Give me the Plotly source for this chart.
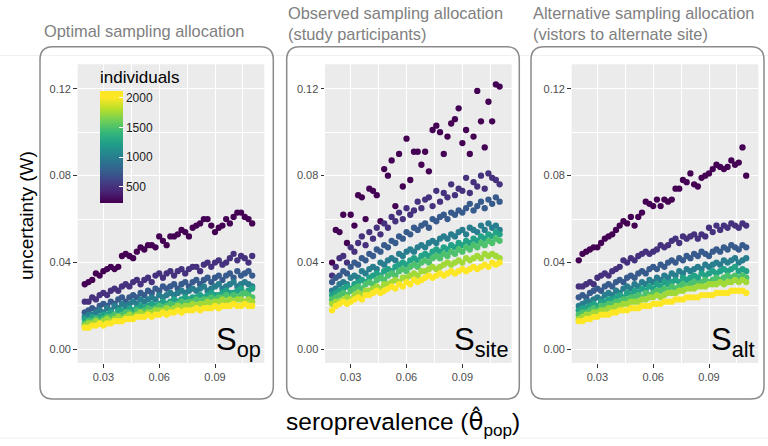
import plotly.graph_objects as go
from plotly.colors import sequential

W, H = 768, 446

# ---------------- data ----------------
prevalence = [0.020, 0.022, 0.024, 0.026, 0.028, 0.030, 0.032, 0.034, 0.036, 0.038,
              0.040, 0.042, 0.044, 0.046, 0.048, 0.050, 0.052, 0.054, 0.056, 0.058,
              0.060, 0.062, 0.064, 0.066, 0.068, 0.070, 0.072, 0.074, 0.076, 0.078,
              0.080, 0.082, 0.084, 0.086, 0.088, 0.090, 0.092, 0.094, 0.096, 0.098,
              0.100, 0.102, 0.104, 0.106, 0.108, 0.110]

individuals = [250, 500, 750, 1000, 1250, 1500, 1750, 2000]

panel_titles = ["Optimal sampling allocation",
                "Observed sampling allocation<br>(study participants)",
                "Alternative sampling allocation<br>(vistors to alternate site)"]
panel_labels = ["S<sub>op</sub>", "S<sub>site</sub>", "S<sub>alt</sub>"]

# uncertainty W, optimal allocation (one list per number of individuals)
op_250 = [0.030, 0.031, 0.032, 0.035, 0.034, 0.036, 0.037, 0.038, 0.037, 0.038,
          0.043, 0.044, 0.043, 0.042, 0.045, 0.047, 0.046, 0.048, 0.048, 0.047,
          0.052, 0.050, 0.048, 0.052, 0.052, 0.053, 0.055, 0.054, 0.052, 0.056,
          0.057, 0.058, 0.060, 0.060, 0.057, 0.054, 0.056, 0.057, 0.060, 0.058,
          0.061, 0.063, 0.063, 0.061, 0.060, 0.058]
op_500 = [0.022, 0.022, 0.024, 0.023, 0.025, 0.026, 0.025, 0.027, 0.028, 0.027,
          0.029, 0.030, 0.029, 0.031, 0.032, 0.030, 0.032, 0.033, 0.031, 0.034,
          0.035, 0.033, 0.035, 0.036, 0.034, 0.036, 0.037, 0.035, 0.037, 0.038,
          0.038, 0.036, 0.039, 0.040, 0.038, 0.040, 0.041, 0.039, 0.040, 0.042,
          0.044, 0.041, 0.043, 0.042, 0.040, 0.043]
op_750 = [0.017, 0.018, 0.019, 0.018, 0.020, 0.021, 0.020, 0.022, 0.021, 0.023,
          0.024, 0.022, 0.024, 0.025, 0.024, 0.026, 0.025, 0.027, 0.026, 0.028,
          0.027, 0.029, 0.028, 0.029, 0.030, 0.028, 0.030, 0.031, 0.029, 0.031,
          0.032, 0.030, 0.032, 0.033, 0.031, 0.033, 0.034, 0.032, 0.034, 0.035,
          0.033, 0.036, 0.034, 0.035, 0.036, 0.034]
op_1000 = [0.015, 0.016, 0.016, 0.017, 0.018, 0.017, 0.019, 0.018, 0.020, 0.019,
           0.021, 0.020, 0.021, 0.022, 0.021, 0.023, 0.022, 0.023, 0.024, 0.023,
           0.025, 0.024, 0.025, 0.026, 0.025, 0.026, 0.027, 0.026, 0.027, 0.028,
           0.027, 0.028, 0.029, 0.027, 0.028, 0.029, 0.030, 0.028, 0.029, 0.030,
           0.031, 0.029, 0.030, 0.031, 0.030, 0.029]
op_1250 = [0.014, 0.013, 0.015, 0.014, 0.015, 0.016, 0.016, 0.017, 0.016, 0.018,
           0.018, 0.017, 0.019, 0.018, 0.019, 0.020, 0.019, 0.020, 0.021, 0.020,
           0.021, 0.022, 0.021, 0.022, 0.023, 0.022, 0.023, 0.024, 0.023, 0.024,
           0.024, 0.025, 0.024, 0.025, 0.026, 0.025, 0.025, 0.026, 0.027, 0.026,
           0.026, 0.027, 0.028, 0.026, 0.027, 0.028]
op_1500 = [0.012, 0.013, 0.013, 0.014, 0.013, 0.014, 0.015, 0.015, 0.016, 0.015,
           0.016, 0.017, 0.017, 0.016, 0.018, 0.017, 0.018, 0.019, 0.018, 0.019,
           0.020, 0.019, 0.020, 0.021, 0.020, 0.021, 0.022, 0.021, 0.022, 0.022,
           0.023, 0.022, 0.023, 0.023, 0.024, 0.023, 0.024, 0.024, 0.025, 0.024,
           0.025, 0.024, 0.025, 0.026, 0.025, 0.024]
op_1750 = [0.011, 0.012, 0.012, 0.013, 0.012, 0.013, 0.014, 0.013, 0.014, 0.015,
           0.014, 0.015, 0.016, 0.015, 0.016, 0.017, 0.016, 0.017, 0.017, 0.018,
           0.018, 0.018, 0.019, 0.018, 0.019, 0.020, 0.019, 0.020, 0.020, 0.021,
           0.020, 0.021, 0.021, 0.022, 0.021, 0.022, 0.022, 0.023, 0.022, 0.023,
           0.022, 0.023, 0.023, 0.022, 0.023, 0.022]
op_2000 = [0.010, 0.010, 0.011, 0.011, 0.012, 0.011, 0.012, 0.012, 0.013, 0.013,
           0.013, 0.014, 0.014, 0.014, 0.015, 0.015, 0.015, 0.016, 0.015, 0.016,
           0.016, 0.017, 0.016, 0.017, 0.017, 0.018, 0.017, 0.018, 0.018, 0.018,
           0.019, 0.018, 0.019, 0.019, 0.019, 0.020, 0.019, 0.020, 0.020, 0.020,
           0.021, 0.020, 0.020, 0.021, 0.020, 0.020]

# observed allocation (study participants)
site_250 = [0.040, 0.055, 0.054, 0.062, 0.049, 0.062, 0.057, 0.071, 0.070, 0.060,
            0.074, 0.073, 0.071, 0.059, 0.083, 0.080, 0.087, 0.066, 0.090, 0.075,
            0.097, 0.078, 0.091, 0.091, 0.085, 0.091, 0.082, 0.101, 0.103, 0.100,
            0.090, 0.098, 0.104, 0.106, 0.111, 0.095, 0.101, 0.090, 0.098, 0.119,
            0.105, 0.093, 0.114, 0.105, 0.122, 0.121]
site_500 = [0.034, 0.038, 0.042, 0.043, 0.040, 0.047, 0.045, 0.049, 0.052, 0.048,
            0.054, 0.051, 0.056, 0.053, 0.058, 0.056, 0.061, 0.059, 0.063, 0.060,
            0.065, 0.062, 0.064, 0.068, 0.065, 0.069, 0.070, 0.066, 0.073, 0.068,
            0.072, 0.070, 0.076, 0.071, 0.074, 0.073, 0.079, 0.072, 0.077, 0.075,
            0.080, 0.074, 0.081, 0.079, 0.078, 0.076]
site_750 = [0.031, 0.033, 0.034, 0.036, 0.035, 0.038, 0.040, 0.039, 0.042, 0.041,
            0.044, 0.043, 0.046, 0.045, 0.048, 0.047, 0.050, 0.049, 0.052, 0.051,
            0.054, 0.053, 0.056, 0.055, 0.057, 0.058, 0.056, 0.060, 0.059, 0.061,
            0.062, 0.060, 0.063, 0.062, 0.064, 0.063, 0.065, 0.067, 0.064, 0.066,
            0.068, 0.065, 0.069, 0.067, 0.070, 0.068]
site_1000 = [0.027, 0.028, 0.030, 0.031, 0.030, 0.033, 0.034, 0.033, 0.036, 0.035,
             0.037, 0.038, 0.037, 0.040, 0.039, 0.041, 0.042, 0.041, 0.044, 0.043,
             0.045, 0.046, 0.045, 0.047, 0.048, 0.047, 0.049, 0.050, 0.049, 0.051,
             0.052, 0.051, 0.053, 0.052, 0.054, 0.055, 0.053, 0.056, 0.055, 0.054,
             0.057, 0.055, 0.058, 0.056, 0.057, 0.055]
site_1250 = [0.025, 0.026, 0.027, 0.028, 0.029, 0.028, 0.030, 0.031, 0.032, 0.031,
             0.033, 0.034, 0.035, 0.034, 0.036, 0.037, 0.036, 0.038, 0.039, 0.040,
             0.039, 0.041, 0.042, 0.041, 0.043, 0.044, 0.043, 0.045, 0.046, 0.045,
             0.047, 0.046, 0.048, 0.047, 0.049, 0.048, 0.050, 0.049, 0.051, 0.050,
             0.052, 0.051, 0.053, 0.052, 0.054, 0.053]
site_1500 = [0.023, 0.024, 0.025, 0.026, 0.025, 0.027, 0.028, 0.029, 0.028, 0.030,
             0.031, 0.030, 0.032, 0.033, 0.032, 0.034, 0.035, 0.034, 0.036, 0.037,
             0.036, 0.038, 0.039, 0.038, 0.040, 0.041, 0.040, 0.042, 0.043, 0.042,
             0.044, 0.043, 0.045, 0.044, 0.046, 0.045, 0.047, 0.046, 0.048, 0.047,
             0.049, 0.048, 0.050, 0.049, 0.051, 0.050]
site_1750 = [0.021, 0.022, 0.022, 0.023, 0.024, 0.023, 0.025, 0.026, 0.025, 0.027,
             0.027, 0.028, 0.029, 0.028, 0.030, 0.030, 0.031, 0.032, 0.031, 0.033,
             0.033, 0.034, 0.035, 0.034, 0.036, 0.036, 0.037, 0.038, 0.037, 0.038,
             0.039, 0.040, 0.039, 0.040, 0.041, 0.040, 0.042, 0.041, 0.042, 0.043,
             0.042, 0.044, 0.043, 0.044, 0.043, 0.042]
site_2000 = [0.018, 0.020, 0.021, 0.022, 0.021, 0.022, 0.023, 0.024, 0.023, 0.025,
             0.025, 0.026, 0.027, 0.026, 0.027, 0.028, 0.029, 0.028, 0.030, 0.029,
             0.031, 0.030, 0.032, 0.031, 0.032, 0.033, 0.034, 0.033, 0.034, 0.035,
             0.034, 0.035, 0.036, 0.035, 0.036, 0.037, 0.036, 0.037, 0.038, 0.037,
             0.038, 0.039, 0.038, 0.040, 0.039, 0.040]

# alternative allocation (visitors to alternate site)
alt_250 = [0.041, 0.044, 0.045, 0.046, 0.047, 0.047, 0.049, 0.051, 0.052, 0.053,
           0.055, 0.057, 0.059, 0.058, 0.061, 0.057, 0.061, 0.063, 0.068, 0.067,
           0.066, 0.069, 0.066, 0.069, 0.068, 0.069, 0.074, 0.074, 0.078, 0.077,
           0.081, 0.076, 0.075, 0.079, 0.080, 0.081, 0.083, 0.085, 0.084, 0.083,
           0.084, 0.087, 0.085, 0.086, 0.093, 0.080]
alt_500 = [0.029, 0.029, 0.030, 0.031, 0.030, 0.033, 0.034, 0.035, 0.034, 0.036,
           0.037, 0.038, 0.041, 0.040, 0.042, 0.041, 0.043, 0.044, 0.045, 0.044,
           0.045, 0.046, 0.048, 0.047, 0.048, 0.050, 0.051, 0.049, 0.052, 0.051,
           0.052, 0.053, 0.051, 0.053, 0.052, 0.056, 0.054, 0.057, 0.055, 0.057,
           0.056, 0.058, 0.057, 0.056, 0.058, 0.057]
alt_750 = [0.024, 0.025, 0.024, 0.026, 0.027, 0.028, 0.027, 0.029, 0.030, 0.029,
           0.031, 0.032, 0.031, 0.033, 0.034, 0.033, 0.035, 0.036, 0.035, 0.037,
           0.038, 0.037, 0.039, 0.038, 0.040, 0.041, 0.040, 0.042, 0.041, 0.043,
           0.042, 0.044, 0.043, 0.045, 0.044, 0.043, 0.045, 0.046, 0.045, 0.047,
           0.046, 0.048, 0.047, 0.046, 0.048, 0.047]
alt_1000 = [0.020, 0.021, 0.022, 0.022, 0.023, 0.024, 0.023, 0.025, 0.026, 0.025,
            0.027, 0.026, 0.028, 0.029, 0.028, 0.030, 0.029, 0.031, 0.030, 0.032,
            0.031, 0.033, 0.032, 0.034, 0.033, 0.035, 0.034, 0.036, 0.035, 0.037,
            0.036, 0.037, 0.038, 0.037, 0.039, 0.038, 0.039, 0.040, 0.039, 0.041,
            0.040, 0.041, 0.042, 0.040, 0.041, 0.042]
alt_1250 = [0.018, 0.019, 0.019, 0.020, 0.021, 0.020, 0.022, 0.022, 0.023, 0.023,
            0.024, 0.025, 0.024, 0.026, 0.025, 0.027, 0.026, 0.028, 0.027, 0.029,
            0.028, 0.030, 0.029, 0.031, 0.030, 0.031, 0.032, 0.031, 0.033, 0.032,
            0.033, 0.034, 0.033, 0.035, 0.034, 0.035, 0.036, 0.035, 0.036, 0.037,
            0.036, 0.037, 0.038, 0.036, 0.037, 0.036]
alt_1500 = [0.016, 0.017, 0.017, 0.018, 0.019, 0.018, 0.020, 0.020, 0.021, 0.021,
            0.022, 0.022, 0.023, 0.023, 0.024, 0.024, 0.025, 0.024, 0.026, 0.025,
            0.026, 0.027, 0.027, 0.028, 0.027, 0.029, 0.028, 0.029, 0.030, 0.029,
            0.030, 0.031, 0.030, 0.031, 0.032, 0.031, 0.032, 0.033, 0.032, 0.033,
            0.034, 0.033, 0.034, 0.033, 0.034, 0.033]
alt_1750 = [0.014, 0.015, 0.016, 0.016, 0.017, 0.017, 0.018, 0.018, 0.019, 0.019,
            0.020, 0.020, 0.021, 0.021, 0.022, 0.022, 0.022, 0.023, 0.023, 0.024,
            0.024, 0.025, 0.024, 0.025, 0.026, 0.026, 0.026, 0.027, 0.027, 0.028,
            0.028, 0.028, 0.029, 0.029, 0.029, 0.030, 0.030, 0.030, 0.031, 0.030,
            0.031, 0.031, 0.032, 0.031, 0.032, 0.031]
alt_2000 = [0.013, 0.013, 0.014, 0.014, 0.015, 0.015, 0.016, 0.016, 0.016, 0.017,
            0.017, 0.018, 0.018, 0.018, 0.019, 0.019, 0.019, 0.020, 0.020, 0.020,
            0.021, 0.021, 0.021, 0.022, 0.022, 0.022, 0.023, 0.023, 0.023, 0.024,
            0.024, 0.024, 0.024, 0.025, 0.025, 0.025, 0.025, 0.026, 0.026, 0.026,
            0.026, 0.027, 0.027, 0.027, 0.027, 0.026]

panels = [
    [op_250, op_500, op_750, op_1000, op_1250, op_1500, op_1750, op_2000],
    [site_250, site_500, site_750, site_1000, site_1250, site_1500, site_1750, site_2000],
    [alt_250, alt_500, alt_750, alt_1000, alt_1250, alt_1500, alt_1750, alt_2000],
]

x_ticks = [0.03, 0.06, 0.09]
y_ticks = [0.00, 0.04, 0.08, 0.12]
cbar_ticks = [500, 1000, 1500, 2000]

# ---------------- layout helpers (pixels -> paper) ----------------
def PX(v):
    return v / W

def PY(v):
    return 1 - v / H

plot_x = [(77.7, 264.3), (325.0, 511.7), (571.7, 758.3)]
plot_top, plot_bot = 64.3, 363.0
box_x = [(40.0, 273.3), (286.7, 519.3), (531.0, 764.0)]
box_top, box_bot = 46.7, 399.0

# colour scale: viridis between 250 and 2000, bar drawn from 230 to 2115
cmin, cmax = 230, 2115
vir = sequential.Viridis
t0 = (250 - cmin) / (cmax - cmin)
t1 = (2000 - cmin) / (cmax - cmin)
cscale = [[0.0, vir[0]]]
for i, c in enumerate(vir):
    cscale.append([t0 + (t1 - t0) * i / (len(vir) - 1), c])
cscale.append([1.0, vir[-1]])

FONT = "Liberation Sans, Arial, Helvetica, sans-serif"

fig = go.Figure()
for p, series in enumerate(panels):
    xs, ys, cs = [], [], []
    for n, vals in zip(individuals, series):
        xs += prevalence[:len(vals)]
        ys += vals
        cs += [n] * len(vals)
    sfx = "" if p == 0 else str(p + 1)
    fig.add_trace(go.Scatter(
        x=xs, y=ys, mode="markers", xaxis="x" + sfx, yaxis="y" + sfx,
        marker=dict(size=6.3, color=cs, coloraxis="coloraxis", line=dict(width=0)),
        showlegend=False, hoverinfo="skip"))

layout = dict(
    width=W, height=H, margin=dict(l=0, r=0, t=0, b=0),
    paper_bgcolor="white", plot_bgcolor="#EBEBEB",
    font=dict(family=FONT, color="#4d4d4d"),
    showlegend=False,
    coloraxis=dict(
        colorscale=cscale, cmin=cmin, cmax=cmax,
        colorbar=dict(
            x=PX(100), xanchor="left", xpad=0,
            y=PY(67), yanchor="top", ypad=0,
            len=136, lenmode="pixels", thickness=23, thicknessmode="pixels",
            outlinewidth=0, bgcolor="rgba(0,0,0,0)",
            tickvals=cbar_ticks, ticks="inside", ticklen=4, tickcolor="white", tickwidth=1,
            tickfont=dict(size=12, color="#1a1a1a", family=FONT),
            title=dict(text="individuals", side="top",
                       font=dict(size=17, color="black", family=FONT)),
        ),
    ),
)

for p in range(3):
    sfx = "" if p == 0 else str(p + 1)
    xa = dict(
        domain=[PX(plot_x[p][0]), PX(plot_x[p][1])], anchor="y" + sfx,
        range=[0.0162, 0.1165], tickvals=x_ticks, tickformat=".2f",
        showgrid=True, gridcolor="white", gridwidth=1.1, zeroline=False, showline=False,
        ticks="outside", ticklen=3.5, tickwidth=1, tickcolor="#333333",
        tickfont=dict(size=11, color="#4d4d4d", family=FONT),
        minor=dict(tickvals=[0.045, 0.075, 0.105], showgrid=True, gridcolor="white",
                   gridwidth=0.55, ticks=""),
    )
    ya = dict(
        domain=[PY(plot_bot), PY(plot_top)], anchor="x" + sfx,
        range=[-0.00625, 0.13125], tickvals=y_ticks, tickformat=".2f",
        showgrid=True, gridcolor="white", gridwidth=1.1, zeroline=False, showline=False,
        ticks="outside", ticklen=3.5, tickwidth=1, tickcolor="#333333",
        tickfont=dict(size=11, color="#4d4d4d", family=FONT),
        minor=dict(tickvals=[0.02, 0.06, 0.10], showgrid=True, gridcolor="white",
                   gridwidth=0.55, ticks=""),
    )
    layout["xaxis" + sfx] = xa
    layout["yaxis" + sfx] = ya

fig.update_layout(**layout)

# rounded panel borders
def rounded(x0, y0, x1, y1, r):
    pts = [
        f"M {PX(x0 + r)},{PY(y0)}",
        f"L {PX(x1 - r)},{PY(y0)}",
        f"Q {PX(x1)},{PY(y0)} {PX(x1)},{PY(y0 + r)}",
        f"L {PX(x1)},{PY(y1 - r)}",
        f"Q {PX(x1)},{PY(y1)} {PX(x1 - r)},{PY(y1)}",
        f"L {PX(x0 + r)},{PY(y1)}",
        f"Q {PX(x0)},{PY(y1)} {PX(x0)},{PY(y1 - r)}",
        f"L {PX(x0)},{PY(y0 + r)}",
        f"Q {PX(x0)},{PY(y0)} {PX(x0 + r)},{PY(y0)}",
        "Z",
    ]
    return " ".join(pts)

shapes = []
for a in (55.5, 438.0):
    shapes.append(dict(type="line", xref="paper", yref="paper", x0=0, x1=1,
                       y0=PY(a), y1=PY(a), line=dict(color="#f0f0f0", width=1),
                       layer="below"))
for (x0, x1) in box_x:
    shapes.append(dict(type="path", xref="paper", yref="paper",
                       path=rounded(x0, box_top, x1, box_bot, 13),
                       line=dict(color="#8a8a8a", width=1.5)))
fig.update_layout(shapes=shapes)

ann = []
title_x = [42.0, 286.0, 531.0]
title_y = [31.0, 23.0, 23.0]
for p in range(3):
    ann.append(dict(text=panel_titles[p], x=PX(title_x[p]), y=PY(title_y[p]),
                    xref="paper", yref="paper", xanchor="left", yanchor="middle",
                    align="left", showarrow=False,
                    font=dict(size=16.4, color="#808080", family=FONT)))
    ann.append(dict(text=panel_labels[p], x=PX(plot_x[p][1] - 1.5), y=PY(plot_bot + 1),
                    xref="paper", yref="paper", xanchor="right", yanchor="bottom",
                    showarrow=False, font=dict(size=31, color="black", family=FONT)))
ann.append(dict(text="uncertainty (W)", x=PX(26), y=PY(216), xref="paper", yref="paper",
                textangle=-90, showarrow=False, xanchor="center", yanchor="middle",
                font=dict(size=19, color="black", family=FONT)))
ann.append(dict(text="seroprevalence (<span style='font-family:DejaVu Sans'>θ\u0302</span><sub>pop</sub>)",
                x=PX(403), y=PY(423),
                xref="paper", yref="paper", showarrow=False, xanchor="center",
                yanchor="middle", font=dict(size=24.5, color="black", family=FONT)))
fig.update_layout(annotations=ann)

fig.write_html("out.html", config={"displayModeBar": False},
               post_script="document.body.style.margin='0';document.body.style.padding='0';")
